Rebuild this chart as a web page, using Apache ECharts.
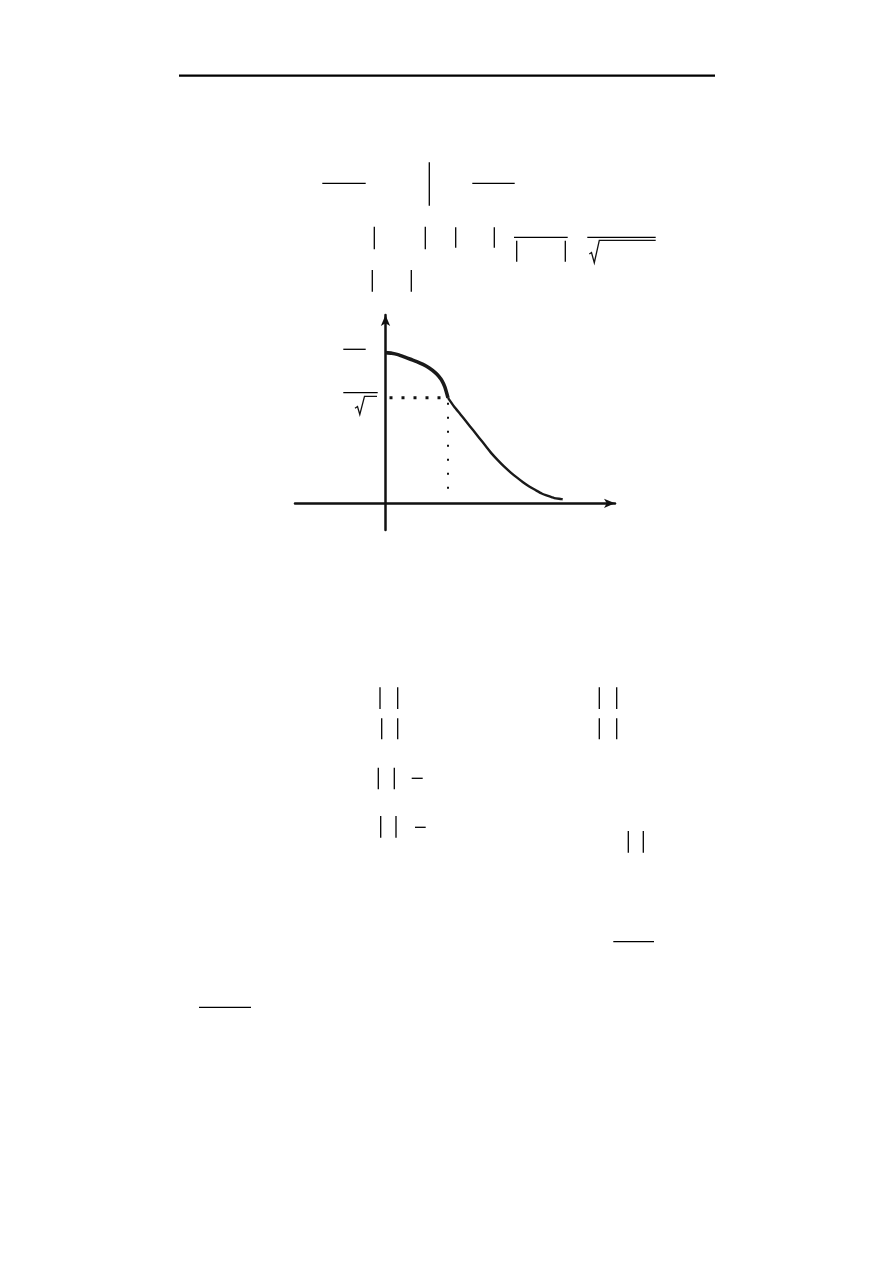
<!DOCTYPE html>
<html>
<head>
<meta charset="utf-8">
<style>
  html, body { margin: 0; padding: 0; background: #ffffff; }
  #chart { width: 893px; height: 1263px; }
</style>
<script src="https://cdn.jsdelivr.net/npm/echarts@6/dist/echarts.min.js"></script>
</head>
<body>
<div id="chart"></div>
<script>
// ---- data (normalised frequency w/wc, normalised magnitude |H|) ----
var passbandX = [0, 0.1, 0.2, 0.3, 0.4, 0.5, 0.6, 0.7, 0.8, 0.85, 0.9, 0.95, 1.0];
var passbandY = [1.0, 0.996, 0.987, 0.972, 0.956, 0.941, 0.922, 0.898, 0.866, 0.844, 0.816, 0.772, 0.70];
var stopbandX = [1.0, 1.1, 1.2, 1.3, 1.4, 1.5, 1.6, 1.7, 1.8, 1.9, 2.0, 2.1, 2.2, 2.3, 2.4, 2.5, 2.6, 2.7, 2.8, 2.835];
var stopbandY = [0.70, 0.641, 0.590, 0.538, 0.486, 0.434, 0.382, 0.330, 0.285, 0.243, 0.206, 0.172, 0.140, 0.112, 0.088, 0.065, 0.049, 0.035, 0.029, 0.027];
var cutoffX = 1.0;
var cutoffY = 0.70;
var cutoffFootY = 0.03;

// ---- page layout strokes (formula rules / bars of the surrounding page) ----
var pageStrokes = [
  [179, 75.7, 715, 75.7, 2.2],
  [322.3, 183.3, 365.7, 183.3, 1.3], [429.3, 162.3, 429.3, 205.7, 1.3], [472.3, 183.3, 514.7, 183.3, 1.3],
  [374.3, 226.7, 374.3, 249.3, 1.3], [425.3, 226.7, 425.3, 249.3, 1.3],
  [455.7, 227.3, 455.7, 247.7, 1.3], [494.3, 227.3, 494.3, 247.7, 1.3],
  [514, 237.3, 567.7, 237.3, 1.3], [516.7, 240.7, 516.7, 261.7, 1.3], [565.3, 240.7, 565.3, 261.7, 1.3],
  [587.3, 237.3, 655.7, 237.3, 1.3],
  [372.3, 270, 372.3, 291.7, 1.3], [411.3, 270, 411.3, 291.7, 1.3],
  [343.3, 349.3, 365.7, 349.3, 1.3], [343.3, 392.7, 377.7, 392.7, 1.3],
  [380, 687.3, 380, 709, 1.3], [397.7, 687.3, 397.7, 709, 1.3],
  [599.3, 687.3, 599.3, 709, 1.3], [616.7, 687.3, 616.7, 709, 1.3],
  [381.7, 718.3, 381.7, 739.3, 1.3], [397.7, 718.3, 397.7, 739.3, 1.3],
  [599.3, 718.3, 599.3, 739.3, 1.3], [616.7, 718.3, 616.7, 739.3, 1.3],
  [378.3, 767.7, 378.3, 789.3, 1.3], [394.3, 767.7, 394.3, 789.3, 1.3], [411.7, 778.3, 422.7, 778.3, 1.3],
  [380.7, 816, 380.7, 837.7, 1.3], [396, 816, 396, 837.7, 1.3], [415, 827.3, 425.7, 827.3, 1.3],
  [628.3, 831, 628.3, 852.7, 1.3], [643.3, 831, 643.3, 852.7, 1.3],
  [613.3, 941.7, 654, 941.7, 1.3],
  [199, 1007.3, 251, 1007.3, 1.3]
];
var radicals = [
  [[589.3, 254], [591.5, 252.5], [594.3, 262.7], [599.3, 240.3], [655.7, 240.3]],
  [[355, 408.3], [357.5, 406.5], [359.8, 414.5], [364.5, 396.3], [377, 396.3]]
];

function zip(xs, ys) { return xs.map(function (x, i) { return [x, ys[i]]; }); }

var graphics = pageStrokes.map(function (s) {
  return { type: 'line', silent: true,
    shape: { x1: s[0], y1: s[1], x2: s[2], y2: s[3] },
    style: { stroke: '#000', lineWidth: s[4] } };
}).concat(radicals.map(function (p) {
  return { type: 'polyline', silent: true, shape: { points: p },
    style: { stroke: '#111', lineWidth: 1.3, fill: null } };
}));

var chart = echarts.init(document.getElementById('chart'), null, { renderer: 'canvas' });
chart.setOption({
  backgroundColor: '#ffffff',
  animation: false,
  graphic: graphics,
  grid: { left: 295, top: 315, width: 320, height: 215, containLabel: false },
  xAxis: {
    type: 'value', min: -1.448, max: 3.672,
    axisLine: { show: true, onZero: true, symbol: ['none', 'arrow'], symbolSize: [7, 11],
      lineStyle: { color: '#111', width: 2.5 } },
    axisTick: { show: false }, axisLabel: { show: false }, splitLine: { show: false }
  },
  yAxis: {
    type: 'value', min: -0.177, max: 1.25,
    axisLine: { show: true, onZero: true, symbol: ['none', 'arrow'], symbolSize: [7, 11],
      lineStyle: { color: '#111', width: 2.5 } },
    axisTick: { show: false }, axisLabel: { show: false }, splitLine: { show: false }
  },
  series: [
    { type: 'line', data: zip(passbandX, passbandY), smooth: 0.2,
      showSymbol: false, clip: false, lineStyle: { color: '#1a1a1a', width: 3.6, join: 'round' } },
    { type: 'line', data: zip(stopbandX, stopbandY), smooth: 0.2,
      showSymbol: false, clip: false, lineStyle: { color: '#1a1a1a', width: 2.4, join: 'round' } },
    { type: 'line', data: [[0, cutoffY], [cutoffX, cutoffY]], showSymbol: false,
      lineStyle: { color: '#111', width: 3, type: [3, 9], dashOffset: -4, cap: 'butt' } },
    { type: 'line', data: [[cutoffX, cutoffY], [cutoffX, cutoffFootY]], showSymbol: false,
      lineStyle: { color: '#111', width: 2, type: [2, 12], dashOffset: -5, cap: 'butt' } }
  ]
});
</script>
</body>
</html>
